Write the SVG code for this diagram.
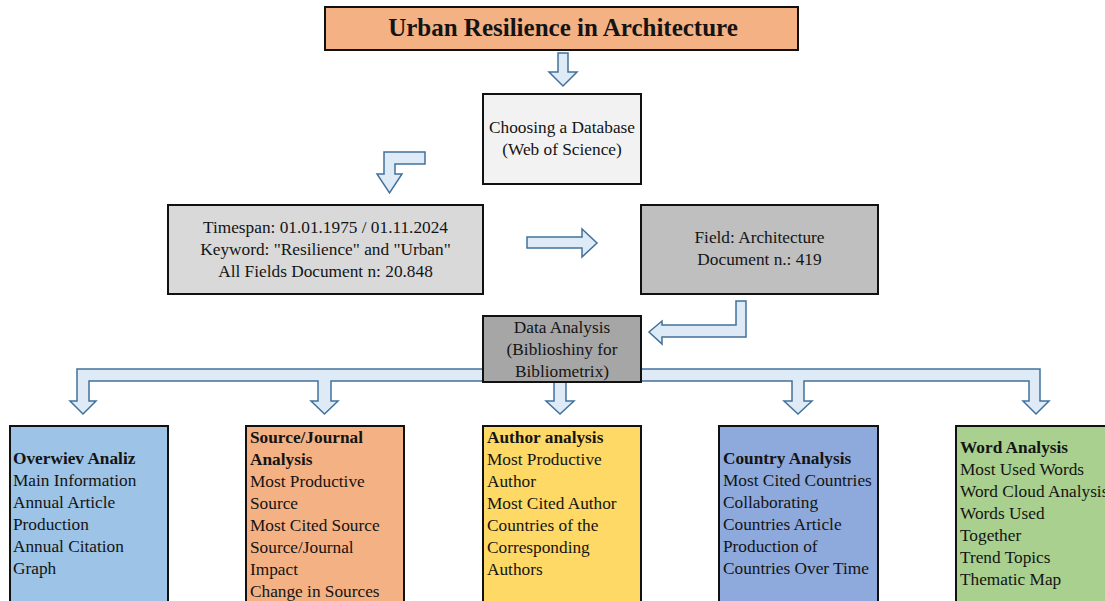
<svg xmlns="http://www.w3.org/2000/svg" width="1105" height="601" viewBox="0 0 1105 601">
<style>
.box{stroke:#111;stroke-width:2}
.arr{fill:#DEEBF7;stroke:#41719C;stroke-width:1.5;stroke-linejoin:miter}
text{font-family:"Liberation Serif","Times New Roman",serif;font-size:17.3px;fill:#141414}
.c{text-anchor:middle}
.b{font-weight:bold}
</style>
<rect width="1105" height="601" fill="#fff"/>
<g id="connectors">
<path class="arr" d="M558,53 H568 V72 H577 L563,86 L549,72 H558 Z"/>
<path class="arr" d="M425,152 V164 H395 V174 H402 L389.5,193 L377,174 H384 V152 Z"/>
<path class="arr" d="M527,237 H582 V229 L597,243 L582,257 V248 H527 Z"/>
<path class="arr" d="M736,301 H746 V337 H662 V344 L649,332 L662,321 V325 H736 Z"/>
<path class="arr" d="M77,369 H1040 V401 H1049 L1036,414 L1023,401 H1029 V381 H804 V401 H812 L798,414 L784,401 H792 V381 H566 V401 H574 L560,414 L546,401 H554 V381 H331 V401 H338 L324.5,414 L311,401 H318 V381 H89 V401 H96 L83,414 L70,401 H77 Z"/>
</g>
<g id="title">
<rect class="box" x="325" y="7" width="473" height="43" fill="#F4B183"/>
<text class="c b" x="563" y="36" style="font-size:25px">Urban Resilience in Architecture</text>
</g>
<g id="database">
<rect class="box" x="483" y="94" width="158" height="90" fill="#F2F2F2"/>
<text class="c" x="562" y="133">Choosing a Database</text>
<text class="c" x="562" y="155">(Web of Science)</text>
</g>
<g id="timespan">
<rect class="box" x="168" y="205" width="315" height="89" fill="#D9D9D9"/>
<text class="c" x="325.5" y="233">Timespan: 01.01.1975 / 01.11.2024</text>
<text class="c" x="325.5" y="255">Keyword: "Resilience" and "Urban"</text>
<text class="c" x="325.5" y="277">All Fields Document n: 20.848</text>
</g>
<g id="field">
<rect class="box" x="641" y="205" width="237" height="89" fill="#BFBFBF"/>
<text class="c" x="759.5" y="243">Field: Architecture</text>
<text class="c" x="759.5" y="265">Document n.: 419</text>
</g>
<g id="data-analysis">
<rect class="box" x="483" y="316" width="158" height="66" fill="#A6A6A6"/>
<text class="c" x="562" y="333">Data Analysis</text>
<text class="c" x="562" y="355">(Biblioshiny for</text>
<text class="c" x="562" y="377">Bibliometrix)</text>
</g>
<g id="overview">
<rect class="box" x="10" y="426" width="158" height="200" fill="#9DC3E6"/>
<text class="b" x="13" y="464">Overwiev Analiz</text>
<text x="13" y="486">Main Information</text>
<text x="13" y="508">Annual Article</text>
<text x="13" y="530">Production</text>
<text x="13" y="552">Annual Citation</text>
<text x="13" y="574">Graph</text>
</g>
<g id="source">
<rect class="box" x="246" y="426" width="158" height="200" fill="#F4B183"/>
<text class="b" x="250" y="443">Source/Journal</text>
<text class="b" x="250" y="465">Analysis</text>
<text x="250" y="487">Most Productive</text>
<text x="250" y="509">Source</text>
<text x="250" y="531">Most Cited Source</text>
<text x="250" y="553">Source/Journal</text>
<text x="250" y="575">Impact</text>
<text x="250" y="597">Change in Sources</text>
</g>
<g id="author">
<rect class="box" x="483" y="426" width="158" height="200" fill="#FFD966"/>
<text class="b" x="487" y="443">Author analysis</text>
<text x="487" y="465">Most Productive</text>
<text x="487" y="487">Author</text>
<text x="487" y="509">Most Cited Author</text>
<text x="487" y="531">Countries of the</text>
<text x="487" y="553">Corresponding</text>
<text x="487" y="575">Authors</text>
</g>
<g id="country">
<rect class="box" x="719" y="426" width="159" height="200" fill="#8EA9DB"/>
<text class="b" x="723" y="464">Country Analysis</text>
<text x="723" y="486">Most Cited Countries</text>
<text x="723" y="508">Collaborating</text>
<text x="723" y="530">Countries Article</text>
<text x="723" y="552">Production of</text>
<text x="723" y="574">Countries Over Time</text>
</g>
<g id="word">
<rect class="box" x="956" y="426" width="170" height="200" fill="#A9D08E"/>
<text class="b" x="960" y="453">Word Analysis</text>
<text x="960" y="475">Most Used Words</text>
<text x="960" y="497">Word Cloud Analysis</text>
<text x="960" y="519">Words Used</text>
<text x="960" y="541">Together</text>
<text x="960" y="563">Trend Topics</text>
<text x="960" y="585">Thematic Map</text>
</g>
</svg>
